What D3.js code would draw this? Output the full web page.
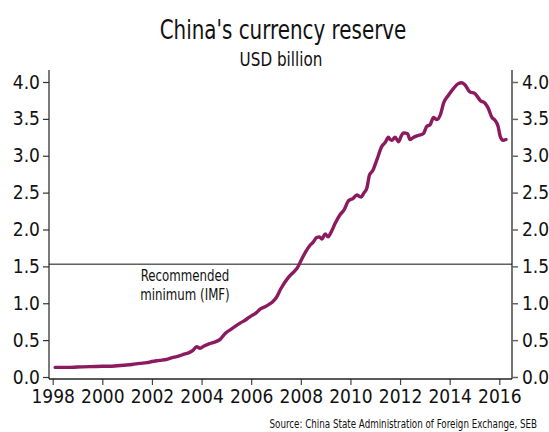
<!DOCTYPE html>
<html>
<head>
<meta charset="utf-8">
<script src="https://cdn.jsdelivr.net/npm/d3@7"></script>
<style>
  html, body { margin: 0; padding: 0; background: #fff; }
  svg { display: block; }
  text { font-family: "DejaVu Sans Condensed", "DejaVu Sans", sans-serif; fill: #111; }
</style>
</head>
<body>
<svg id="chart" width="549" height="432"></svg>
<script>
// ---- data (USD trillion) ----
const dates = [
  1998.1, 1998.6, 1999.0, 1999.5, 2000.0, 2000.5, 2000.85, 2001.2, 2001.5, 2001.8,
  2002.0, 2002.3, 2002.6, 2002.86, 2003.1, 2003.3, 2003.5, 2003.65, 2003.8, 2003.94,
  2004.1, 2004.3, 2004.5, 2004.75, 2004.95, 2005.2, 2005.55, 2005.8, 2005.96, 2006.2,
  2006.36, 2006.6, 2006.83, 2007.0, 2007.2, 2007.5, 2007.7, 2007.84, 2008.04, 2008.2,
  2008.38, 2008.5, 2008.64, 2008.75, 2008.85, 2008.98, 2009.1, 2009.2, 2009.38, 2009.58,
  2009.75, 2009.92, 2010.1, 2010.26, 2010.35, 2010.43, 2010.55, 2010.66, 2010.77, 2010.9,
  2011.06, 2011.27, 2011.4, 2011.53, 2011.6, 2011.67, 2011.8, 2011.94, 2012.05, 2012.14,
  2012.3, 2012.4, 2012.55, 2012.68, 2012.94, 2013.08, 2013.21, 2013.35, 2013.48, 2013.64,
  2013.75, 2013.95, 2014.15, 2014.35, 2014.49, 2014.62, 2014.8, 2015.03, 2015.23, 2015.43,
  2015.56, 2015.7, 2015.83, 2015.95, 2016.04, 2016.15, 2016.27
];
const reserves = [
  0.13, 0.13, 0.135, 0.14, 0.145, 0.15, 0.16, 0.17, 0.185, 0.195,
  0.21, 0.225, 0.24, 0.265, 0.285, 0.31, 0.33, 0.36, 0.41, 0.39,
  0.42, 0.45, 0.47, 0.51, 0.59, 0.65, 0.73, 0.78, 0.82, 0.87,
  0.92, 0.96, 1.01, 1.07, 1.20, 1.35, 1.42, 1.47, 1.60, 1.70,
  1.79, 1.83, 1.89, 1.90, 1.87, 1.94, 1.90, 1.95, 2.08, 2.20,
  2.27, 2.39, 2.42, 2.47, 2.45, 2.44, 2.50, 2.56, 2.74, 2.80,
  2.94, 3.13, 3.18, 3.25, 3.22, 3.21, 3.25, 3.19, 3.27, 3.31,
  3.30, 3.22, 3.25, 3.27, 3.30, 3.40, 3.42, 3.52, 3.49, 3.57,
  3.71, 3.82, 3.91, 3.98, 3.99, 3.96, 3.87, 3.84, 3.75, 3.71,
  3.64, 3.52, 3.48, 3.40, 3.26, 3.21, 3.22
];
const xTicks = [1998, 2000, 2002, 2004, 2006, 2008, 2010, 2012, 2014, 2016];
const yTicks = [0, 0.5, 1, 1.5, 2, 2.5, 3, 3.5, 4];
const imfMinimum = 1.53;
const title = "China's currency reserve";
const subtitle = "USD billion";
const note = ["Recommended", "minimum (IMF)"];
const source = "Source: China State Administration of Foreign Exchange, SEB";

// ---- layout ----
const svg = d3.select("#chart");
const axL = 49, axR = 512, axTop = 70, axBottom = 379;
const x = d3.scaleLinear().domain([1998, 2016]).range([52.7, 499.3]);
const y = d3.scaleLinear().domain([0, 4]).range([377, 82]);

// condensed text helper: text placed at (px,py) and squeezed horizontally
function squeezed(px, py, sx, size, anchor) {
  return svg.append("text")
    .attr("transform", `translate(${px},${py}) scale(${sx},1)`)
    .attr("text-anchor", anchor)
    .style("font-size", size + "px");
}

// titles
squeezed(283, 39, 0.82, 27, "middle").text(title);
squeezed(281, 66, 0.89, 19, "middle").text(subtitle);

// axes
const fmt = d3.format(".1f");
function styleAxis(g, stroke, sw) {
  g.select(".domain").remove();
  g.attr("font-family", null).attr("font-size", null);
  g.selectAll("line").attr("stroke", stroke).attr("stroke-width", sw);
  g.selectAll("text").style("font-size", "19px").attr("fill", "#111");
}
const gL = svg.append("g").attr("transform", `translate(${axL},0)`)
  .call(d3.axisLeft(y).tickValues(yTicks).tickFormat(fmt).tickSize(6).tickPadding(3));
styleAxis(gL, "#333", 1.2);

const gR = svg.append("g").attr("transform", `translate(${axR},0)`)
  .call(d3.axisRight(y).tickValues(yTicks).tickFormat(fmt).tickSize(6).tickPadding(4));
styleAxis(gR, "#666", 1.5);

const gX = svg.append("g").attr("transform", `translate(0,${axBottom})`)
  .call(d3.axisBottom(x).tickValues(xTicks).tickFormat(d3.format("d")).tickSize(6).tickPadding(5));
styleAxis(gX, "#444", 1.2);

svg.append("line").attr("x1", axL).attr("x2", axL).attr("y1", axTop).attr("y2", axBottom)
  .attr("stroke", "#222").attr("stroke-width", 1.2);
svg.append("line").attr("x1", axR).attr("x2", axR).attr("y1", axTop).attr("y2", axBottom)
  .attr("stroke", "#666").attr("stroke-width", 1.8);
svg.append("line").attr("x1", axL).attr("x2", axR).attr("y1", axBottom).attr("y2", axBottom)
  .attr("stroke", "#222").attr("stroke-width", 1.4);

// IMF line
svg.append("line").attr("x1", axL).attr("x2", axR)
  .attr("y1", y(imfMinimum)).attr("y2", y(imfMinimum))
  .attr("stroke", "#111").attr("stroke-width", 1);
const noteText = squeezed(185, 0, 0.82, 16, "middle");
noteText.selectAll("tspan").data(note).join("tspan")
  .attr("x", 0).attr("y", (d, i) => 281 + i * 19).text(d => d);

// series
const pts = dates.map((d, i) => [d, reserves[i]]);
svg.append("path").datum(pts)
  .attr("fill", "none").attr("stroke", "#8b1a5f").attr("stroke-width", 3.4)
  .attr("stroke-linejoin", "round").attr("stroke-linecap", "round")
  .attr("d", d3.line().x(d => x(d[0])).y(d => y(d[1])).curve(d3.curveMonotoneX));

// source
squeezed(537, 428, 0.81, 12, "end").text(source);
</script>
</body>
</html>
